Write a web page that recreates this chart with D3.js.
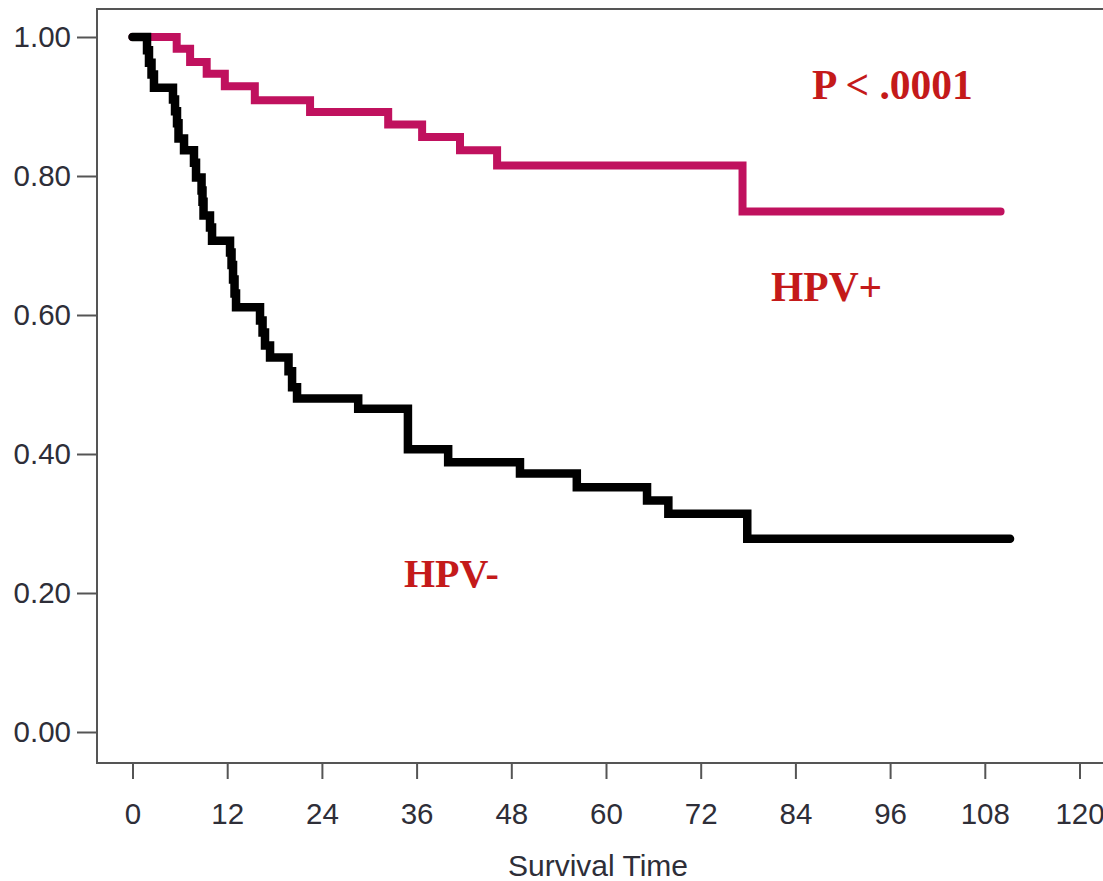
<!DOCTYPE html>
<html>
<head>
<meta charset="utf-8">
<script src="https://cdn.jsdelivr.net/npm/d3@7"></script>
<style>
  html, body { margin: 0; padding: 0; background: #ffffff; }
  svg { display: block; }
</style>
</head>
<body>
<svg id="chart" width="1103" height="881"></svg>
<script>
// ---- Data ----
const hpvPosTimes = [0, 5.6, 7.3, 9.4, 11.7, 15.5, 22.5, 32.4, 36.7, 41.5, 46.2, 77.3, 110.0];
const hpvPosSurv  = [1.000, 0.983, 0.964, 0.947, 0.929, 0.909, 0.892, 0.874, 0.856, 0.837, 0.815, 0.749, 0.749];

const hpvNegTimes = [0, 1.84, 2.09, 2.41, 2.72, 5.13, 5.39, 5.64, 5.83, 6.53, 7.79, 8.05, 8.75, 8.87, 9.00, 9.82, 10.08,
  12.36, 12.55, 12.74, 12.93, 13.12, 16.16, 16.48, 16.79, 17.43, 19.77, 20.22, 20.85, 28.6, 34.9, 40.0, 49.1, 56.3,
  65.2, 67.9, 77.9, 111.2];
const hpvNegSurv  = [1.000, 0.981, 0.963, 0.946, 0.927, 0.910, 0.893, 0.876, 0.854, 0.837, 0.819, 0.798, 0.779, 0.763,
  0.743, 0.726, 0.707, 0.690, 0.672, 0.651, 0.631, 0.611, 0.592, 0.575, 0.556, 0.539, 0.519, 0.496, 0.480, 0.465,
  0.407, 0.388, 0.372, 0.352, 0.333, 0.314, 0.278, 0.278];

const xTicks = [0, 12, 24, 36, 48, 60, 72, 84, 96, 108, 120];
const yTicks = [0, 0.2, 0.4, 0.6, 0.8, 1.0];
const xTitle = "Survival Time";
const pText = "P < .0001";
const labelPos = "HPV+";
const labelNeg = "HPV-";

// ---- Layout ----
const svg = d3.select("#chart");
const frameLeft = 97, frameTop = 9, frameBottom = 763, frameRight = 1110;

const x = d3.scaleLinear().domain([0, 120]).range([132.5, 1079.5]);
const y = d3.scaleLinear().domain([0, 1]).range([732, 37]);

const axisColor = "#555";
const tickFont = "'Liberation Sans', Arial, sans-serif";
const tickColor = "#2e2e38";

// Frame
svg.append("path")
  .attr("d", `M${frameRight},${frameTop}H${frameLeft}V${frameBottom}H${frameRight}`)
  .attr("fill", "none").attr("stroke", axisColor).attr("stroke-width", 2);

// Y axis
const yAxis = svg.append("g")
  .attr("transform", `translate(${frameLeft},0)`)
  .call(d3.axisLeft(y).tickValues(yTicks).tickFormat(d3.format(".2f")).tickSize(20).tickPadding(6));
yAxis.select(".domain").remove();
yAxis.selectAll("line").attr("stroke", axisColor).attr("stroke-width", 2);
yAxis.selectAll("text").attr("font-family", tickFont).attr("font-size", 29.5).attr("fill", tickColor);

// X axis
const xAxis = svg.append("g")
  .attr("transform", `translate(0,${frameBottom})`)
  .call(d3.axisBottom(x).tickValues(xTicks).tickFormat(d3.format("d")).tickSize(16).tickPadding(24));
xAxis.select(".domain").remove();
xAxis.selectAll("line").attr("stroke", axisColor).attr("stroke-width", 2);
xAxis.selectAll("text").attr("font-family", tickFont).attr("font-size", 29.5).attr("fill", tickColor);

svg.append("text")
  .attr("x", 598).attr("y", 876)
  .attr("text-anchor", "middle")
  .attr("font-family", tickFont).attr("font-size", 30).attr("fill", tickColor)
  .text(xTitle);

// Curves
const line = d3.line()
  .x(d => x(d[0]))
  .y(d => y(d[1]))
  .curve(d3.curveStepAfter);

const posData = hpvPosTimes.map((t, i) => [t, hpvPosSurv[i]]);
const negData = hpvNegTimes.map((t, i) => [t, hpvNegSurv[i]]);

svg.append("path")
  .datum(posData)
  .attr("d", line)
  .attr("fill", "none")
  .attr("stroke", "#C0115E")
  .attr("stroke-width", 8)
  .attr("stroke-linejoin", "miter")
  .attr("stroke-linecap", "round");

svg.append("path")
  .datum(negData)
  .attr("d", line)
  .attr("fill", "none")
  .attr("stroke", "#000000")
  .attr("stroke-width", 8.5)
  .attr("stroke-linejoin", "miter")
  .attr("stroke-linecap", "round");

// Annotations
const serif = "'Liberation Serif', 'Times New Roman', serif";
const red = "#C41A1A";
svg.append("text").attr("x", 812).attr("y", 99)
  .attr("font-family", serif).attr("font-weight", "bold").attr("font-size", 41.5).attr("fill", red)
  .text(pText);
svg.append("text").attr("x", 771).attr("y", 301)
  .attr("font-family", serif).attr("font-weight", "bold").attr("font-size", 41.5).attr("fill", red)
  .text(labelPos);
svg.append("text").attr("x", 404).attr("y", 587)
  .attr("font-family", serif).attr("font-weight", "bold").attr("font-size", 40).attr("fill", red)
  .text(labelNeg);
</script>
</body>
</html>
